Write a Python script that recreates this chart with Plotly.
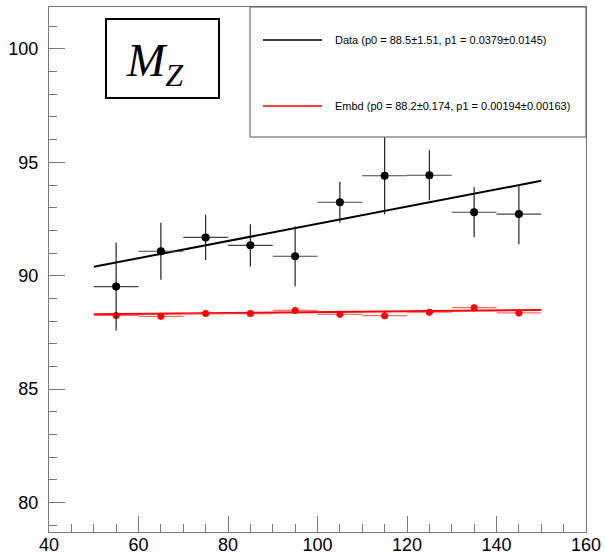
import plotly.graph_objects as go

# ---- data ----
x_bins = [55, 65, 75, 85, 95, 105, 115, 125, 135, 145]
x_half_width = [5, 5, 5, 5, 5, 5, 5, 5, 5, 5]
data_y = [89.52, 91.08, 91.69, 91.34, 90.86, 93.24, 94.41, 94.43, 92.80, 92.72]
data_err = [1.93, 1.26, 1.00, 0.93, 1.32, 0.90, 1.70, 1.10, 1.10, 1.33]
embd_y = [88.25, 88.21, 88.33, 88.33, 88.47, 88.30, 88.24, 88.39, 88.59, 88.36]
embd_err = [0.15, 0.15, 0.15, 0.15, 0.15, 0.15, 0.15, 0.15, 0.15, 0.15]

fit_range = [50, 150]
data_fit = {"p0": 88.5, "p1": 0.0379}
embd_fit = {"p0": 88.2, "p1": 0.00194}
data_label = "Data (p0 = 88.5\u00b11.51, p1 = 0.0379\u00b10.0145)"
embd_label = "Embd (p0 = 88.2\u00b10.174, p1 = 0.00194\u00b10.00163)"
title_text = "<i>M</i><sub><i>Z</i></sub>"

x_range = [40, 160]
y_range = [78.7, 101.85]

# ---- layout geometry (pixels) ----
W, H = 606, 556
L, R, T, B = 49, 586, 7, 532


def px(xp):
    return (xp - L) / (R - L)


def py(yp):
    return (B - yp) / (B - T)


fig = go.Figure()

# fit lines
fig.add_trace(go.Scatter(
    x=fit_range, y=[data_fit["p0"] + data_fit["p1"] * v for v in fit_range],
    mode="lines", line=dict(color="black", width=2), showlegend=False, hoverinfo="skip"))
fig.add_trace(go.Scatter(
    x=fit_range, y=[embd_fit["p0"] + embd_fit["p1"] * v for v in fit_range],
    mode="lines", line=dict(color="red", width=2), showlegend=False, hoverinfo="skip"))

# Embd points
fig.add_trace(go.Scatter(
    x=x_bins, y=embd_y, mode="markers",
    marker=dict(color="red", size=7),
    error_x=dict(type="data", array=x_half_width, color="rgba(255,60,60,0.75)", thickness=1.2, width=0),
    error_y=dict(type="data", array=embd_err, color="red", thickness=1, width=0),
    showlegend=False))

# Data points
fig.add_trace(go.Scatter(
    x=x_bins, y=data_y, mode="markers",
    marker=dict(color="black", size=8),
    error_x=dict(type="data", array=x_half_width, color="#444", thickness=1.2, width=0),
    error_y=dict(type="data", array=data_err, color="#222", thickness=1.2, width=0),
    showlegend=False))

axis_common = dict(
    showline=True, mirror=True, linecolor="#7a7a7a", linewidth=1,
    ticks="inside", tickcolor="#7a7a7a", tickwidth=1, ticklen=16,
    showgrid=False, zeroline=False, automargin=False,
    tickfont=dict(family="Liberation Sans, Arial, sans-serif", size=18, color="black"),
)

fig.update_layout(
    width=W, height=H,
    margin=dict(l=L, r=W - R, t=T, b=H - B, pad=0, autoexpand=False),
    paper_bgcolor="white", plot_bgcolor="white",
    xaxis=dict(range=x_range, tick0=40, dtick=20,
               minor=dict(dtick=5, ticks="inside", ticklen=8, tickcolor="#7a7a7a", showgrid=False),
               ticklabelstandoff=-4, **axis_common),
    yaxis=dict(range=y_range, tick0=0, dtick=5,
               minor=dict(dtick=1, ticks="inside", ticklen=8, tickcolor="#7a7a7a", showgrid=False),
               ticklabelstandoff=6, **axis_common),
    showlegend=False,
)

# legend box
fig.add_shape(type="rect", xref="paper", yref="paper",
              x0=px(250), x1=px(586), y0=py(137), y1=py(7),
              line=dict(color="#555", width=1), fillcolor="white", layer="above")
fig.add_shape(type="line", xref="paper", yref="paper",
              x0=px(263), x1=px(322), y0=py(40), y1=py(40),
              line=dict(color="black", width=1.5), layer="above")
fig.add_shape(type="line", xref="paper", yref="paper",
              x0=px(263), x1=px(322), y0=py(106), y1=py(106),
              line=dict(color="red", width=1.5), layer="above")
for label, yy in [(data_label, 40), (embd_label, 106)]:
    fig.add_annotation(xref="paper", yref="paper", x=px(333), y=py(yy),
                       text=label, showarrow=False, xanchor="left", yanchor="middle",
                       font=dict(family="Liberation Sans, Arial, sans-serif", size=11, color="black"))

# M_Z box
fig.add_shape(type="rect", xref="paper", yref="paper",
              x0=px(106), x1=px(219), y0=py(98), y1=py(19),
              line=dict(color="black", width=2), fillcolor="white", layer="above")
fig.add_annotation(xref="paper", yref="paper", x=px(155), y=py(64),
                   text=title_text, showarrow=False, xanchor="center", yanchor="middle",
                   font=dict(family="Liberation Serif, DejaVu Serif, serif", size=46, color="black"))

fig.write_html("out.html")
